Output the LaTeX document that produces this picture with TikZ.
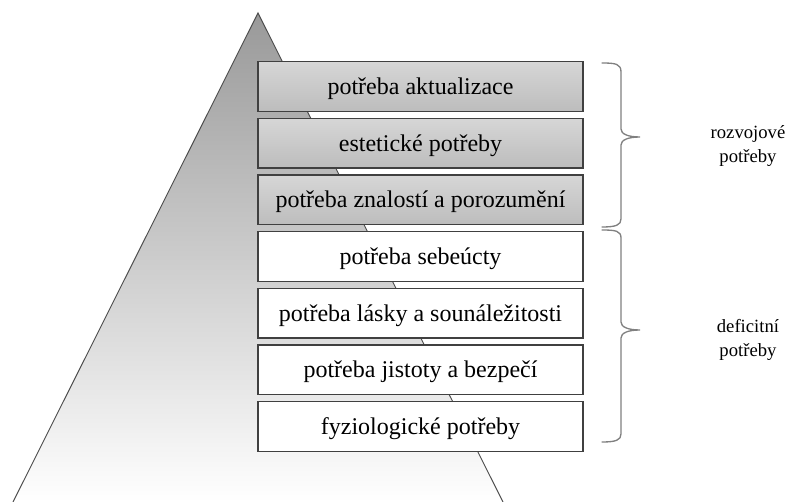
\documentclass[tikz,border=0pt]{standalone}
\usepackage{fontspec}
\setmainfont{Liberation Serif}
\begin{document}
\begin{tikzpicture}[x=0.75pt,y=-0.75pt,
  level/.style={draw=black!75, line width=0.9pt, minimum width=243.75pt, minimum height=37.1pt, inner sep=0pt, text height=16pt, text depth=4pt, font=\fontsize{18}{21}\selectfont},
  upper/.style={level, top color=black!16, bottom color=black!26},
  lower/.style={level, fill=white},
  bracepath/.style={draw=black!50, line width=1pt, line cap=round},
  sidelabel/.style={align=center, font=\fontsize{14}{18}\selectfont, inner sep=0pt}]
\useasboundingbox (0,0) rectangle (797,502);
% pyramid
\coordinate (apex) at (258,13);
\coordinate (bl) at (13,502);
\coordinate (br) at (503,502);
\shade[top color=black!40, bottom color=white] (apex) -- (bl) -- (br) -- cycle;
\draw[black!70, line width=0.7pt] (bl) -- (apex) -- (br);
% levels
\node[upper] (l1) at (420.5,86.5) {potřeba aktualizace};
\node[upper] (l2) at (420.5,143.2) {estetické potřeby};
\node[upper] (l3) at (420.5,199.8) {potřeba znalostí a porozumění};
\node[lower] (l4) at (420.5,256.5) {potřeba sebeúcty};
\node[lower] (l5) at (420.5,313.2) {potřeba lásky a sounáležitosti};
\node[lower] (l6) at (420.5,369.8) {potřeba jistoty a bezpečí};
\node[lower] (l7) at (420.5,426.5) {fyziologické potřeby};
% braces
\coordinate (ua) at (602,63);
\coordinate (ut) at (640,137);
\coordinate (ub) at (602,227);
\coordinate (da) at (602,230);
\coordinate (dt) at (640,330);
\coordinate (db) at (602,442);
\draw[bracepath] (ua) .. controls (616,63) and (621,64) .. (621,72) -- (621,129)
  .. controls (621,134) and (628,137) .. (ut)
  .. controls (628,137) and (621,140) .. (621,145) -- (621,219)
  .. controls (621,225) and (616,227) .. (ub);
\draw[bracepath] (da) .. controls (616,230) and (621,231) .. (621,238) -- (621,322)
  .. controls (621,327) and (628,330) .. (dt)
  .. controls (628,330) and (621,333) .. (621,338) -- (621,434)
  .. controls (621,440) and (616,442) .. (db);
\node[sidelabel] (rz) at (748,146) {rozvojové\\potřeby};
\node[sidelabel] (df) at (748,340) {deficitní\\potřeby};
\end{tikzpicture}
\end{document}
